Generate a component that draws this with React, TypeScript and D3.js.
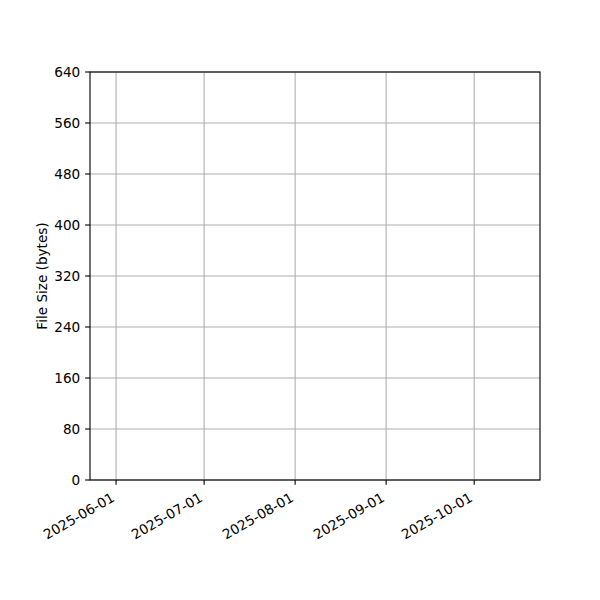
import { useEffect, useRef } from "react";
import * as d3 from "d3";

// axis ranges (no series is plotted)
const xDomain = ["2025-05-23T03:00:00", "2025-10-23T10:00:00"];
const xTicks = ["2025-06-01", "2025-07-01", "2025-08-01", "2025-09-01", "2025-10-01"];
const yDomain = [0, 640];
const yTicks = [0, 80, 160, 240, 320, 400, 480, 560, 640];
const yLabel = "File Size (bytes)";

export default function App() {
  const svgRef = useRef<SVGSVGElement>(null);

  useEffect(() => {
    if (!svgRef.current) return;
    document.body.style.margin = "0";

    const width = 600;
    const height = 600;
    const margin = { top: 72, right: 60, bottom: 120, left: 90 };
    const font = "DejaVu Sans, sans-serif";
    const fs = 13.6;
    const tick = 4.86;
    const lw = 1.11;

    const svg = d3.select(svgRef.current);
    svg.selectAll("*").remove();

    const parse = (s: string) => new Date(s);
    const x = d3.scaleTime()
      .domain(xDomain.map(parse))
      .range([margin.left, width - margin.right]);
    const y = d3.scaleLinear()
      .domain(yDomain)
      .range([height - margin.bottom, margin.top]);

    const x0 = margin.left, x1 = width - margin.right;
    const y0 = height - margin.bottom, y1 = margin.top;

    // grid
    svg.append("g")
      .selectAll("line")
      .data(xTicks)
      .join("line")
      .attr("x1", d => x(parse(d + "T00:00:00")))
      .attr("x2", d => x(parse(d + "T00:00:00")))
      .attr("y1", y0)
      .attr("y2", y1)
      .attr("stroke", "#b0b0b0")
      .attr("stroke-width", lw);

    svg.append("g")
      .selectAll("line")
      .data(yTicks)
      .join("line")
      .attr("x1", x0)
      .attr("x2", x1)
      .attr("y1", d => y(d))
      .attr("y2", d => y(d))
      .attr("stroke", "#b0b0b0")
      .attr("stroke-width", lw);

    // frame
    svg.append("rect")
      .attr("x", x0)
      .attr("y", y1)
      .attr("width", x1 - x0)
      .attr("height", y0 - y1)
      .attr("fill", "none")
      .attr("stroke", "#000")
      .attr("stroke-width", lw);

    // y axis ticks
    const yg = svg.append("g").attr("font-family", font).attr("font-size", fs);
    yTicks.forEach(t => {
      yg.append("line")
        .attr("x1", x0 - tick)
        .attr("x2", x0)
        .attr("y1", y(t))
        .attr("y2", y(t))
        .attr("stroke", "#000")
        .attr("stroke-width", lw);
      yg.append("text")
        .attr("x", x0 - 2 * tick)
        .attr("y", y(t))
        .attr("dy", "0.36em")
        .attr("text-anchor", "end")
        .attr("fill", "#000")
        .text(String(t));
    });

    // x axis ticks, labels rotated 30deg and right-aligned like autofmt_xdate
    const xg = svg.append("g").attr("font-family", font).attr("font-size", fs);
    xTicks.forEach(t => {
      const px = x(parse(t + "T00:00:00"));
      xg.append("line")
        .attr("x1", px)
        .attr("x2", px)
        .attr("y1", y0)
        .attr("y2", y0 + tick)
        .attr("stroke", "#000")
        .attr("stroke-width", lw);
      xg.append("text")
        .attr("transform", `translate(${px - fs / 2},${y0 + 2 * tick}) rotate(-30)`)
        .attr("dy", "0.9em")
        .attr("text-anchor", "end")
        .attr("fill", "#000")
        .text(t);
    });

    // y label
    svg.append("text")
      .attr("transform", `translate(46.5,${(y0 + y1) / 2}) rotate(-90)`)
      .attr("text-anchor", "middle")
      .attr("font-family", font)
      .attr("font-size", fs)
      .attr("fill", "#000")
      .text(yLabel);
  }, []);

  return <svg ref={svgRef} width={600} height={600} style={{ display: "block", background: "#fff" }} />;
}
